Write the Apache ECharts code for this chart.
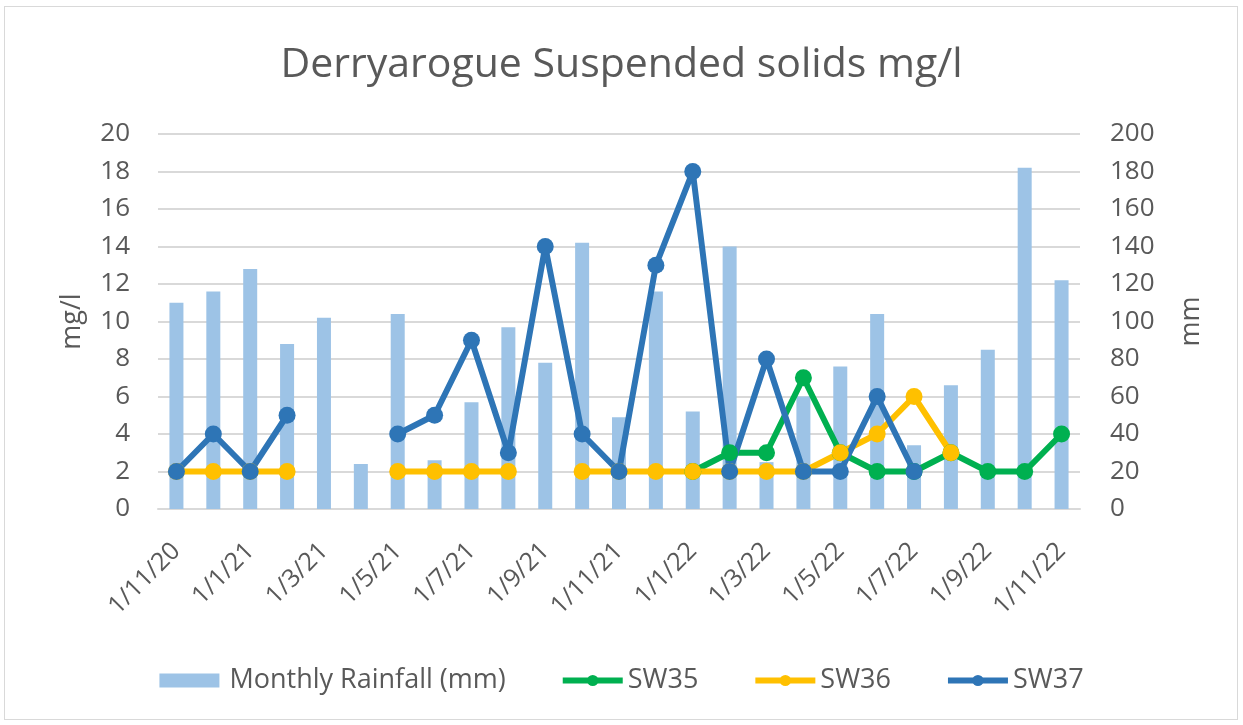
<!DOCTYPE html>
<html>
<head>
<meta charset="utf-8">
<script src="https://cdn.jsdelivr.net/npm/echarts@6/dist/echarts.min.js"></script>
<style>
  html, body { margin: 0; padding: 0; background: #ffffff; }
  #frame {
    position: absolute;
    left: 4px; top: 6px;
    width: 1234px; height: 714px;
    border: 1px solid #d9d9d9;
    box-sizing: border-box;
  }
  #chart { position: absolute; left: 0; top: 0; width: 1243px; height: 725px; }
</style>
</head>
<body>
<div id="frame"></div>
<div id="chart"></div>
<script>
const months = [
  '1/11/20', '1/12/20', '1/1/21', '1/2/21', '1/3/21', '1/4/21', '1/5/21',
  '1/6/21', '1/7/21', '1/8/21', '1/9/21', '1/10/21', '1/11/21', '1/12/21',
  '1/1/22', '1/2/22', '1/3/22', '1/4/22', '1/5/22', '1/6/22', '1/7/22',
  '1/8/22', '1/9/22', '1/10/22', '1/11/22'
]

// monthly rainfall, mm (right axis)
const rainfall = [110, 116, 128, 88, 102, 24, 104, 26, 57, 97, 78, 142, 49,
  116, 52, 140, 25, 60, 76, 104, 34, 66, 85, 182, 122]

// suspended solids, mg/l (left axis)
const sw35 = [null, null, null, null, null, null, null, null, null, null, null,
  null, null, null, 2, 3, 3, 7, 3, 2, 2, 3, 2, 2, 4]
const sw36 = [2, 2, 2, 2, null, null, 2, 2, 2, 2, null, 2, 2, 2, 2, 2, 2, 2,
  3, 4, 6, 3, null, null, null]
const sw37 = [2, 4, 2, 5, null, null, 4, 5, 9, 3, 14, 4, 2, 13, 18, 2, 8, 2,
  2, 6, 2, null, null, null, null]

const textColor = '#595959'
const fontFamily = '"Open Sans", "Noto Sans", sans-serif'

const lineSeries = (name, data, color) => ({
  name,
  type: 'line',
  data,
  yAxisIndex: 0,
  symbol: 'circle',
  symbolSize: 17,
  connectNulls: false,
  lineStyle: { color, width: 6 },
  itemStyle: { color },
  z: 3,
})

const chart = echarts.init(document.getElementById('chart'))

chart.setOption({
  animation: false,
  textStyle: { fontFamily },
  title: {
    text: 'Derryarogue Suspended solids mg/l',
    left: 'center',
    top: 40,
    textStyle: { color: textColor, fontSize: 41, fontWeight: 'normal', fontFamily },
  },
  legend: {
    bottom: 26,
    left: 'center',
    itemGap: 54,
    itemWidth: 60,
    itemHeight: 14,
    lineStyle: { width: 6 },
    textStyle: { color: textColor, fontSize: 27, fontFamily },
    data: [
      { name: 'Monthly Rainfall (mm)', icon: 'rect', textStyle: { padding: [0, 0, 0, 5] } },
      'SW35', 'SW36', 'SW37',
    ],
  },
  grid: {
    left: 158,
    right: 163,
    top: 134,
    bottom: 216,
  },
  xAxis: {
    type: 'category',
    data: months,
    boundaryGap: true,
    axisTick: { show: false },
    axisLine: { lineStyle: { color: '#d9d9d9', width: 2 } },
    axisLabel: {
      color: textColor,
      fontSize: 25,
      rotate: 45,
      interval: 1,
      margin: 38,
    },
  },
  yAxis: [
    {
      type: 'value',
      name: 'mg/l',
      nameLocation: 'middle',
      nameGap: 72,
      nameTextStyle: { color: textColor, fontSize: 27 },
      min: 0,
      max: 20,
      interval: 2,
      axisLine: { show: false },
      axisTick: { show: false },
      axisLabel: { color: textColor, fontSize: 26, margin: 28 },
      splitLine: { lineStyle: { color: '#d9d9d9', width: 2 } },
    },
    {
      type: 'value',
      name: 'mm',
      nameLocation: 'middle',
      nameGap: 98,
      nameTextStyle: { color: textColor, fontSize: 27 },
      min: 0,
      max: 200,
      interval: 20,
      axisLine: { show: false },
      axisTick: { show: false },
      axisLabel: { color: textColor, fontSize: 26, margin: 30 },
      splitLine: { show: false },
    },
  ],
  series: [
    {
      name: 'Monthly Rainfall (mm)',
      type: 'bar',
      data: rainfall,
      yAxisIndex: 1,
      barWidth: 14,
      itemStyle: { color: '#9dc3e6' },
      z: 2,
    },
    lineSeries('SW35', sw35, '#00b050'),
    lineSeries('SW36', sw36, '#ffc000'),
    lineSeries('SW37', sw37, '#2e75b6'),
  ],
})
</script>
</body>
</html>
